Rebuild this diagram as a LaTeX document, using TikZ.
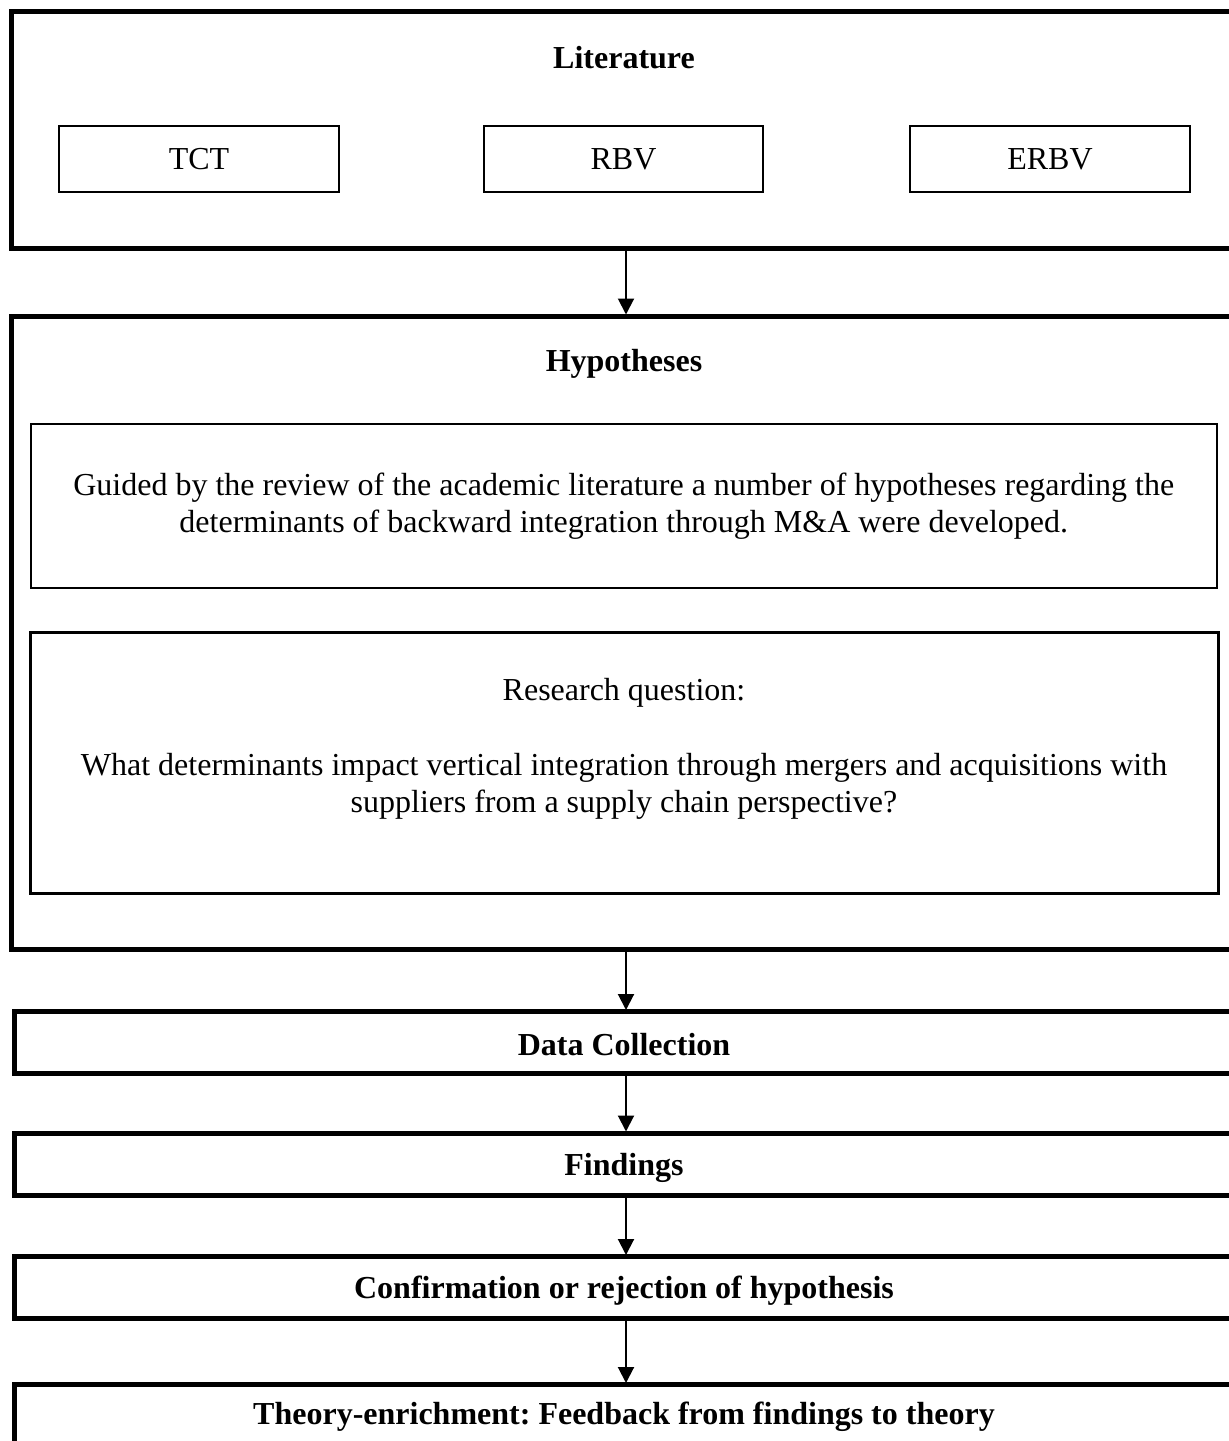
\documentclass[tikz,border=0pt]{standalone}
\usepackage{fontspec}
\setmainfont{Liberation Serif}
\usetikzlibrary{arrows.meta}
\frenchspacing

% Box corners are given at the outer edge of the border line (anchor north west).
\tikzset{
  outerbox/.style={draw, line width=5pt, rectangle, inner sep=0pt, anchor=north west},
  innerbox/.style={draw, line width=2pt, rectangle, inner sep=0pt, anchor=north west},
  qbox/.style={draw, line width=3pt, rectangle, inner sep=0pt, anchor=north west},
  title/.style={font=\fontsize{32}{37}\selectfont\bfseries, inner sep=0pt},
  body/.style={font=\fontsize{32}{37}\selectfont, inner sep=0pt, align=center},
  flow/.style={line width=2pt, -{Triangle[width=16pt,length=16pt]}, shorten >=-1pt},
}

\begin{document}
\begin{tikzpicture}[x=1pt, y=-1pt]
\useasboundingbox (0,0) rectangle (1229,1441);
\clip (0,0) rectangle (1229,1441);
\fill[white] (0,0) rectangle (1229,1441);

% vertical axis of the flow arrows
\coordinate (axis) at (626,0);

% Literature block
\node[outerbox, minimum width=1240pt, minimum height=236.5pt] (lit) at (9,9) {};
\node[title] (littitle) at (624,58) {Literature};
\node[innerbox, minimum width=280pt, minimum height=66pt] (tct) at (58,125) {};
\node[body] at (tct.center) {TCT};
\node[innerbox, minimum width=279pt, minimum height=66pt] (rbv) at (483,125) {};
\node[body] at (rbv.center) {RBV};
\node[innerbox, minimum width=280pt, minimum height=66pt] (erbv) at (909,125) {};
\node[body] at (erbv.center) {ERBV};

% Hypotheses block
\node[outerbox, minimum width=1240pt, minimum height=633.5pt] (hyp) at (9,313.5) {};
\node[title] (hyptitle) at (624,364) {Hypotheses};
\node[innerbox, minimum width=1186.5pt, minimum height=164pt] (guided) at (29.5,423) {};
\node[body] (guidedtext) at (guided.center) {Guided by the review of the academic literature a number of hypotheses regarding the\\determinants of backward integration through M\&A were developed.};
\node[qbox, minimum width=1187.5pt, minimum height=261pt] (rq) at (29,630.5) {};
\node[body] (rqlabel) at (624,693) {Research question:};
\node[body] (rqtext) at (624,786) {What determinants impact vertical integration through mergers and acquisitions with\\suppliers from a supply chain perspective?};

% Process steps
\node[outerbox, minimum width=1240pt, minimum height=61.5pt] (data) at (12,1009) {};
\node[title] at (624,1045) {Data Collection};
\node[outerbox, minimum width=1240pt, minimum height=62.5pt] (find) at (12,1130.5) {};
\node[title] at (624,1168) {Findings};
\node[outerbox, minimum width=1240pt, minimum height=61.5pt] (conf) at (12,1254) {};
\node[title] at (624,1291) {Confirmation or rejection of hypothesis};
\node[outerbox, minimum width=1240pt, minimum height=120pt] (theory) at (12,1382) {};
\node[title] at (624,1417) {Theory-enrichment: Feedback from findings to theory};

% Connectors
\draw[flow] (lit.south -| axis) -- (hyp.north -| axis);
\draw[flow] (hyp.south -| axis) -- (data.north -| axis);
\draw[flow] (data.south -| axis) -- (find.north -| axis);
\draw[flow] (find.south -| axis) -- (conf.north -| axis);
\draw[flow] (conf.south -| axis) -- (theory.north -| axis);
\end{tikzpicture}
\end{document}
